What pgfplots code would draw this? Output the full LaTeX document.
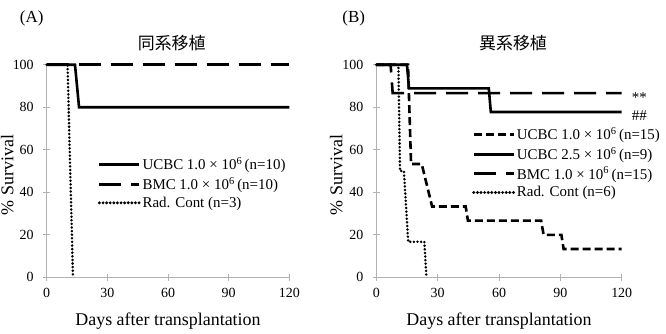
\documentclass[border=0pt]{standalone}
\usepackage{pgfplots}
\pgfplotsset{compat=1.18}
\usepackage{fontspec}
\setmainfont{Liberation Serif}
\newfontfamily\cjk{Noto Sans CJK JP}

\pgfplotsset{
  survival/.style={
    scale only axis,
    height=212.5bp,
    xmin=0, xmax=120, ymin=0, ymax=100,
    enlargelimits=false,
    clip=false,
    axis lines*=left,
    axis line style={gray!60, line width=0.8bp},
    xtick={0,30,60,90,120},
    ytick={0,20,40,60,80,100},
    tick align=center,
    major tick length=7bp,
    tick style={gray!60, line width=0.8bp},
    /pgf/number format/assume math mode=true,
    ticklabel style={font=\fontsize{14}{16}\selectfont},
    yticklabel style={xshift=-6bp},
    xticklabel style={yshift=-4bp},
    label style={font=\fontsize{18}{20}\selectfont},
    xlabel={Days after transplantation},
    ylabel={\% Survival},
    ylabel style={at={(axis description cs:-0.163,0.481)}, anchor=center},
    legend cell align=left,
    legend style={draw=none, fill=none, font=\fontsize{15}{17}\selectfont,
      row sep=3bp, inner sep=0pt, nodes={inner sep=1.5bp}},
    legend image code/.code={\draw[##1, line width=3.2bp] (0bp,0bp) -- (40bp,0bp);},
  },
}

\begin{document}
\begin{tikzpicture}[x=1bp, y=1bp]
\useasboundingbox (0,0) rectangle (666,333);

% panel labels and titles
\node[font=\fontsize{17}{19}\selectfont] at (31.7,315) {(A)};
\node[font=\fontsize{17}{19}\selectfont] at (353.7,315) {(B)};
\node[font=\cjk\fontsize{17}{19}\selectfont] at (171.7,290) {同系移植};
\node[font=\cjk\fontsize{17}{19}\selectfont] at (513,290) {異系移植};

% (A) syngeneic transplantation
\begin{axis}[survival,
  at={(46.7bp,55.7bp)}, anchor=south west,
  width=242.6bp,
  xlabel style={at={(axis description cs:0.5,-0.205)}, anchor=center},
  legend style={at={(axis description cs:0.21,0.571)}, anchor=north west},
]
\addplot[black, solid, line width=2.6bp] coordinates {(0,100) (14,100) (16,80) (120,80)};
\addlegendentry{UCBC 1.0 × 10\textsuperscript{6}\,(n=10)}
\addplot[black, line width=2.6bp, dash pattern=on 22bp off 10bp] coordinates {(0,100) (120,100)};
\addlegendentry{BMC 1.0 × 10\textsuperscript{6}\,(n=10)}
\addplot[black, line width=2.8bp, line cap=round, dash pattern=on 0bp off 3.6bp] coordinates {(0,100) (10.3,100) (13,0)};
\addlegendentry{Rad. Cont (n=3)}
\end{axis}

% (B) xenogeneic transplantation
\begin{axis}[survival,
  at={(376.3bp,55.7bp)}, anchor=south west,
  width=245.4bp,
  xlabel style={at={(axis description cs:0.5,-0.205)}, anchor=center},
  legend style={at={(axis description cs:0.39,0.712)}, anchor=north west},
]
\addplot[black, line width=2.6bp, dash pattern=on 8bp off 4bp] coordinates {(0,100) (15.5,100) (17,53.3) (22.2,53.3) (27.3,33.3)
  (43.7,33.3) (44.8,26.7) (80.6,26.7) (81.8,20) (90.5,20) (91.6,13.3) (120,13.3)};
\addlegendentry{UCBC 1.0 × 10\textsuperscript{6}\,(n=15)}
\addplot[black, solid, line width=2.6bp] coordinates {(0,100) (15,100) (16,88.9) (55,88.9) (56,77.8) (120,77.8)};
\addlegendentry{UCBC 2.5 × 10\textsuperscript{6}\,(n=9)}
\addplot[black, line width=2.6bp, dash pattern=on 22bp off 10bp] coordinates {(0,100) (7,100) (8,86.7) (120,86.7)};
\addlegendentry{BMC 1.0 × 10\textsuperscript{6}\,(n=15)}
\addplot[black, line width=2.8bp, line cap=round, dash pattern=on 0bp off 3.6bp] coordinates {(0,100) (10.8,100) (11.6,50) (13.5,50) (15.6,16.7)
  (23.5,16.7) (24.5,0)};
\addlegendentry{Rad. Cont (n=6)}
\node[anchor=west, inner sep=0pt, font=\fontsize{15}{17}\selectfont] at (axis cs:124.9,84.5) {**};
\node[anchor=west, inner sep=0pt, font=\fontsize{15}{17}\selectfont] at (axis cs:124.9,76.2) {\#\#};
\end{axis}
\end{tikzpicture}
\end{document}
